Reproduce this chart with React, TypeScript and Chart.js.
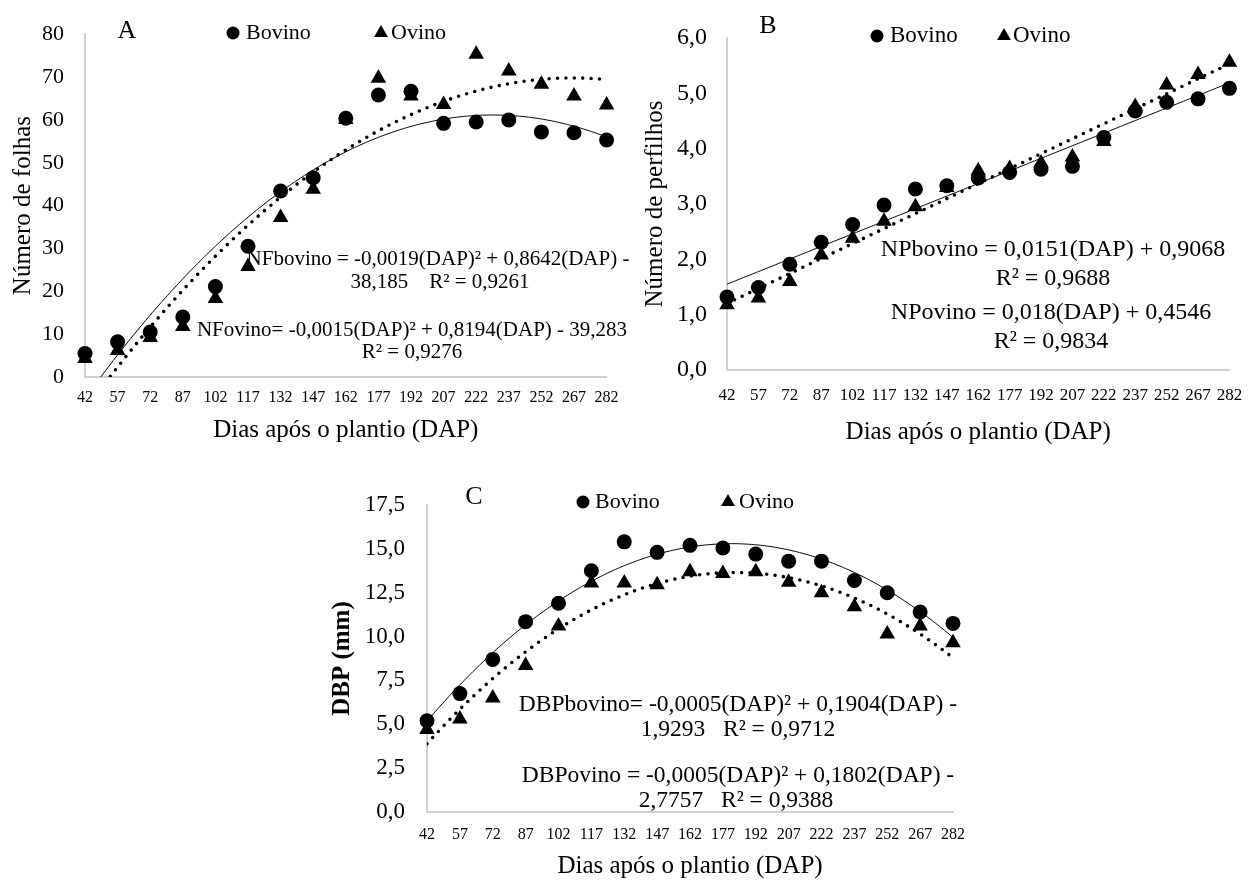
import React, { useEffect, useRef } from "react";
import { Chart, registerables } from "chart.js";

Chart.register(...registerables);

// ---------- data ----------
const DAP = [42, 57, 72, 87, 102, 117, 132, 147, 162, 177, 192, 207, 222, 237, 252, 267, 282];
const xTickValues = [42, 57, 72, 87, 102, 117, 132, 147, 162, 177, 192, 207, 222, 237, 252, 267, 282];

const folhasBovino = [5.5, 8.2, 10.5, 14.0, 21.1, 30.5, 43.4, 46.5, 60.4, 65.8, 66.7, 59.2, 59.5, 60.0, 57.2, 57.0, 55.3];
const folhasOvino = [4.3, 6.2, 9.2, 11.8, 18.3, 25.8, 37.2, 43.8, 60.1, 69.7, 65.6, 63.6, 75.3, 71.4, 68.3, 65.6, 63.5];

const perfilhosBovino = [1.32, 1.49, 1.91, 2.31, 2.63, 2.98, 3.27, 3.33, 3.47, 3.57, 3.63, 3.68, 4.2, 4.68, 4.84, 4.9, 5.09];
const perfilhosOvino = [1.18, 1.3, 1.6, 2.08, 2.38, 2.69, 2.95, 3.3, 3.6, 3.64, 3.74, 3.85, 4.13, 4.76, 5.15, 5.34, 5.56];

const dbpBovino = [5.2, 6.75, 8.7, 10.85, 11.9, 13.75, 15.4, 14.8, 15.2, 15.05, 14.7, 14.3, 14.3, 13.2, 12.5, 11.4, 10.75];
const dbpOvino = [4.7, 5.3, 6.5, 8.35, 10.6, 13.05, 13.05, 12.95, 13.7, 13.6, 13.7, 13.1, 12.5, 11.7, 10.15, 10.6, 9.65];

const FONT = '"Liberation Serif", "Times New Roman", serif';

// ---------- helpers ----------
function polyfit(xs: number[], ys: number[], deg: number): number[] {
  const n = deg + 1;
  const M: number[][] = [];
  for (let r = 0; r < n; r++) {
    const row: number[] = [];
    for (let c = 0; c < n; c++) row.push(xs.reduce((s, x) => s + Math.pow(x, r + c), 0));
    row.push(xs.reduce((s, x, i) => s + ys[i] * Math.pow(x, r), 0));
    M.push(row);
  }
  for (let i = 0; i < n; i++) {
    let p = i;
    for (let k = i + 1; k < n; k++) if (Math.abs(M[k][i]) > Math.abs(M[p][i])) p = k;
    const tmp = M[i]; M[i] = M[p]; M[p] = tmp;
    for (let k = i + 1; k < n; k++) {
      const f = M[k][i] / M[i][i];
      for (let j = i; j <= n; j++) M[k][j] -= f * M[i][j];
    }
  }
  const coef = new Array(n).fill(0);
  for (let i = n - 1; i >= 0; i--) {
    let s = M[i][n];
    for (let j = i + 1; j < n; j++) s -= M[i][j] * coef[j];
    coef[i] = s / M[i][i];
  }
  return coef;
}

function trend(xs: number[], ys: number[], deg: number) {
  const c = polyfit(xs, ys, deg);
  const pts: { x: number; y: number }[] = [];
  for (let x = xs[0]; x <= xs[xs.length - 1]; x += 1) {
    let y = 0;
    for (let k = 0; k < c.length; k++) y += c[k] * Math.pow(x, k);
    pts.push({ x, y });
  }
  return pts;
}

type Box = { l: number; t: number; w: number; h: number };
type Plot = { l: number; t: number; r: number; b: number };
type Item =
  | { kind: "text"; text: string; x: number; y: number; size: number; align?: CanvasTextAlign }
  | { kind: "circle"; x: number; y: number; r: number }
  | { kind: "triangle"; x: number; y: number; r: number };

type Spec = {
  box: Box;
  plot: Plot;
  bov: number[];
  ovi: number[];
  deg: number;
  yMax: number;
  yStep: number;
  yDec: number;
  yTitle: string;
  yTitleBold?: boolean;
  yTitleX: number;
  yTickSize: number;
  yTickRight: number;
  xTickSize: number;
  xTickY: number;
  xTitleY: number;
  titleSize: number;
  items: Item[];
};

function drawTriangle(ctx: CanvasRenderingContext2D, x: number, y: number, r: number) {
  const h = r * 1.5;
  const half = (r * Math.sqrt(3)) / 2;
  ctx.beginPath();
  ctx.moveTo(x, y - h * (2 / 3));
  ctx.lineTo(x + half, y + h / 3);
  ctx.lineTo(x - half, y + h / 3);
  ctx.closePath();
  ctx.fill();
}

function buildConfig(s: Spec): any {
  const { box, plot } = s;
  const yWidth = plot.l - box.l;
  const xHeight = box.t + box.h - plot.b;
  const padTop = plot.t - box.t;
  const padRight = box.l + box.w - plot.r;
  const xTickPad = s.xTickY - plot.b - 0.6 * s.xTickSize;
  const yTitlePad = s.yTitleX - box.l - s.titleSize / 2;
  const xTitlePad = box.t + box.h - s.xTitleY - s.titleSize / 2;

  const annot = {
    id: "annot",
    afterDraw(chart: any) {
      const ctx: CanvasRenderingContext2D = chart.ctx;
      ctx.save();
      ctx.fillStyle = "#000";
      for (const it of s.items) {
        if (it.kind === "text") {
          ctx.font = `${it.size}px ${FONT}`;
          ctx.textAlign = it.align || "center";
          ctx.textBaseline = "middle";
          ctx.fillText(it.text, it.x - box.l, it.y - box.t);
        } else if (it.kind === "circle") {
          ctx.beginPath();
          ctx.arc(it.x - box.l, it.y - box.t, it.r, 0, Math.PI * 2);
          ctx.fill();
        } else {
          drawTriangle(ctx, it.x - box.l, it.y - box.t, it.r);
        }
      }
      ctx.restore();
    },
  };

  const toPts = (arr: number[]) => arr.map((v, i) => ({ x: DAP[i], y: v }));

  return {
    type: "scatter",
    data: {
      datasets: [
        {
          label: "Ovino",
          data: toPts(s.ovi),
          pointStyle: "triangle",
          pointRadius: 9,
          pointHoverRadius: 9,
          backgroundColor: "#000",
          borderColor: "#000",
          borderWidth: 0,
          showLine: false,
          clip: false,
        },
        {
          label: "Bovino",
          data: toPts(s.bov),
          pointStyle: "circle",
          pointRadius: 7.5,
          pointHoverRadius: 7.5,
          backgroundColor: "#000",
          borderColor: "#000",
          borderWidth: 0,
          showLine: false,
          clip: false,
        },
        {
          label: "Tendência Bovino",
          data: trend(DAP, s.bov, s.deg),
          showLine: true,
          pointRadius: 0,
          borderColor: "#000",
          borderWidth: 1,
          fill: false,
          tension: 0,
          clip: 0,
        },
        {
          label: "Tendência Ovino",
          data: trend(DAP, s.ovi, s.deg),
          showLine: true,
          pointRadius: 0,
          borderColor: "#000",
          borderWidth: 3.6,
          borderDash: [0, 8.4],
          borderCapStyle: "round",
          fill: false,
          tension: 0,
          clip: 0,
        },
      ],
    },
    options: {
      responsive: false,
      animation: false,
      devicePixelRatio: 1,
      layout: { padding: { top: padTop, right: padRight, bottom: 0, left: 0 } },
      plugins: { legend: { display: false }, tooltip: { enabled: false }, title: { display: false } },
      scales: {
        x: {
          type: "linear",
          min: DAP[0],
          max: DAP[DAP.length - 1],
          afterBuildTicks: (scale: any) => {
            scale.ticks = xTickValues.map((v) => ({ value: v }));
          },
          afterFit: (scale: any) => {
            scale.height = xHeight;
          },
          grid: { display: false, drawTicks: false },
          border: { display: true, color: "#d0d0d0", width: 2 },
          ticks: {
            autoSkip: false,
            maxRotation: 0,
            padding: xTickPad,
            color: "#000",
            font: { family: FONT, size: s.xTickSize },
            callback: (v: any) => String(v),
          },
          title: {
            display: true,
            text: "Dias após o plantio (DAP)",
            color: "#000",
            font: { family: FONT, size: s.titleSize, lineHeight: 1 },
            padding: { top: 0, bottom: xTitlePad },
          },
        },
        y: {
          type: "linear",
          min: 0,
          max: s.yMax,
          afterFit: (scale: any) => {
            scale.width = yWidth;
          },
          grid: { display: false, drawTicks: false },
          border: { display: true, color: "#d0d0d0", width: 2 },
          ticks: {
            stepSize: s.yStep,
            padding: plot.l - s.yTickRight,
            color: "#000",
            font: { family: FONT, size: s.yTickSize },
            callback: (v: any) => Number(v).toFixed(s.yDec).replace(".", ","),
          },
          title: {
            display: true,
            text: s.yTitle,
            color: "#000",
            font: { family: FONT, size: s.titleSize, lineHeight: 1, weight: s.yTitleBold ? "bold" : "normal" },
            padding: { top: yTitlePad, bottom: 0 },
          },
        },
      },
    },
    plugins: [annot],
  };
}

const specA: Spec = {
  box: { l: 0, t: 0, w: 630, h: 452 },
  plot: { l: 85, t: 33, r: 613, b: 377 },
  bov: folhasBovino,
  ovi: folhasOvino,
  deg: 2,
  yMax: 80,
  yStep: 10,
  yDec: 0,
  yTitle: "Número de folhas",
  yTitleX: 23,
  yTickSize: 22,
  yTickRight: 64,
  xTickSize: 16,
  xTickY: 398,
  xTitleY: 430,
  titleSize: 25,
  items: [
    { kind: "text", text: "A", x: 127, y: 31, size: 26 },
    { kind: "circle", x: 233, y: 33, r: 6.5 },
    { kind: "text", text: "Bovino", x: 246, y: 33, size: 22, align: "left" },
    { kind: "triangle", x: 381, y: 33, r: 8 },
    { kind: "text", text: "Ovino", x: 391, y: 33, size: 22, align: "left" },
    { kind: "text", text: "NFbovino = -0,0019(DAP)² + 0,8642(DAP) -", x: 438, y: 259, size: 21 },
    { kind: "text", text: "38,185    R² = 0,9261", x: 440, y: 282, size: 21 },
    { kind: "text", text: "NFovino= -0,0015(DAP)² + 0,8194(DAP) - 39,283", x: 412, y: 330, size: 21 },
    { kind: "text", text: "R² = 0,9276", x: 412, y: 352, size: 21 },
  ],
};

const specB: Spec = {
  box: { l: 630, t: 0, w: 628, h: 452 },
  plot: { l: 727, t: 38, r: 1241, b: 370 },
  bov: perfilhosBovino,
  ovi: perfilhosOvino,
  deg: 1,
  yMax: 6,
  yStep: 1,
  yDec: 1,
  yTitle: "Número de perfilhos",
  yTitleX: 655,
  yTickSize: 24,
  yTickRight: 707,
  xTickSize: 17,
  xTickY: 396,
  xTitleY: 432,
  titleSize: 25,
  items: [
    { kind: "text", text: "B", x: 768, y: 26, size: 26 },
    { kind: "circle", x: 877, y: 36, r: 6.5 },
    { kind: "text", text: "Bovino", x: 890, y: 36, size: 23, align: "left" },
    { kind: "triangle", x: 1004, y: 36, r: 8 },
    { kind: "text", text: "Ovino", x: 1013, y: 36, size: 23, align: "left" },
    { kind: "text", text: "NPbovino = 0,0151(DAP) + 0,9068", x: 1053, y: 250, size: 24 },
    { kind: "text", text: "R² = 0,9688", x: 1053, y: 279, size: 24 },
    { kind: "text", text: "NPovino = 0,018(DAP) + 0,4546", x: 1051, y: 313, size: 24 },
    { kind: "text", text: "R² = 0,9834", x: 1051, y: 342, size: 24 },
  ],
};

const specC: Spec = {
  box: { l: 318, t: 455, w: 665, h: 427 },
  plot: { l: 427, t: 505, r: 953, b: 812 },
  bov: dbpBovino,
  ovi: dbpOvino,
  deg: 2,
  yMax: 17.5,
  yStep: 2.5,
  yDec: 1,
  yTitle: "DBP (mm)",
  yTitleBold: true,
  yTitleX: 343,
  yTickSize: 23,
  yTickRight: 405,
  xTickSize: 16,
  xTickY: 835,
  xTitleY: 866,
  titleSize: 25,
  items: [
    { kind: "text", text: "C", x: 474, y: 497, size: 26 },
    { kind: "circle", x: 583, y: 502, r: 6.5 },
    { kind: "text", text: "Bovino", x: 595, y: 502, size: 22, align: "left" },
    { kind: "triangle", x: 728, y: 502, r: 8 },
    { kind: "text", text: "Ovino", x: 739, y: 502, size: 22, align: "left" },
    { kind: "text", text: "DBPbovino= -0,0005(DAP)² + 0,1904(DAP) -", x: 738, y: 705, size: 23.5 },
    { kind: "text", text: "1,9293   R² = 0,9712", x: 738, y: 730, size: 23.5 },
    { kind: "text", text: "DBPovino = -0,0005(DAP)² + 0,1802(DAP) -", x: 738, y: 776, size: 23.5 },
    { kind: "text", text: "2,7757   R² = 0,9388", x: 736, y: 801, size: 23.5 },
  ],
};

function Panel({ spec }: { spec: Spec }) {
  const ref = useRef<HTMLCanvasElement | null>(null);
  useEffect(() => {
    if (!ref.current) return;
    const chart = new Chart(ref.current, buildConfig(spec));
    return () => chart.destroy();
  }, [spec]);
  const { box } = spec;
  return (
    <canvas
      ref={ref}
      width={box.w}
      height={box.h}
      style={{ position: "absolute", left: box.l, top: box.t, width: box.w, height: box.h }}
    />
  );
}

export default function App() {
  return (
    <div style={{ position: "absolute", left: 0, top: 0, width: 1258, height: 882, background: "#fff", overflow: "hidden" }}>
      <Panel spec={specA} />
      <Panel spec={specB} />
      <Panel spec={specC} />
    </div>
  );
}
